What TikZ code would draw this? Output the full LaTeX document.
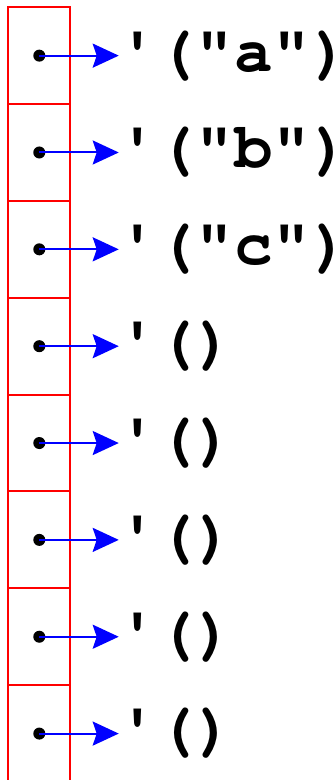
\documentclass[tikz,border=0pt]{standalone}
\usepackage{fontspec}
\newfontfamily\codefont{TeX Gyre Cursor}
\usetikzlibrary{positioning,arrows.meta}

\begin{document}
\begin{tikzpicture}[
  x=1pt, y=1pt,
  node distance=0pt,
  cell/.style={draw=red, line width=2pt, minimum width=61.5pt, minimum height=96.6pt, inner sep=0pt, outer sep=0pt},
  ptr/.style={circle, fill=black, inner sep=0pt, minimum size=12pt},
  val/.style={font=\codefont\bfseries\fontsize{64}{64}\selectfont, inner sep=0pt},
  arrow/.style={-{Stealth[length=26pt, width=24pt, inset=4pt]}, line width=2pt, blue}
]
\useasboundingbox (0,0) rectangle (335,-778);
\node[cell] (c1) at (39.2,-55.5) {};
\node[cell, below=of c1] (c2) {};
\node[cell, below=of c2] (c3) {};
\node[cell, below=of c3] (c4) {};
\node[cell, below=of c4] (c5) {};
\node[cell, below=of c5] (c6) {};
\node[cell, below=of c6] (c7) {};
\node[cell, below=of c7] (c8) {};
\node[ptr] (p1) at (c1) {};
\node[ptr] (p2) at (c2) {};
\node[ptr] (p3) at (c3) {};
\node[ptr] (p4) at (c4) {};
\node[ptr] (p5) at (c5) {};
\node[ptr] (p6) at (c6) {};
\node[ptr] (p7) at (c7) {};
\node[ptr] (p8) at (c8) {};
\node[val, right=48.5pt of c1] (v1) {'("a")};
\node[val, right=48.5pt of c2] (v2) {'("b")};
\node[val, right=48.5pt of c3] (v3) {'("c")};
\node[val, right=48.5pt of c4] (v4) {'()};
\node[val, right=48.5pt of c5] (v5) {'()};
\node[val, right=48.5pt of c6] (v6) {'()};
\node[val, right=48.5pt of c7] (v7) {'()};
\node[val, right=48.5pt of c8] (v8) {'()};
\draw[arrow] (p1.center) -- (v1.west);
\draw[arrow] (p2.center) -- (v2.west);
\draw[arrow] (p3.center) -- (v3.west);
\draw[arrow] (p4.center) -- (v4.west);
\draw[arrow] (p5.center) -- (v5.west);
\draw[arrow] (p6.center) -- (v6.west);
\draw[arrow] (p7.center) -- (v7.west);
\draw[arrow] (p8.center) -- (v8.west);
\end{tikzpicture}
\end{document}
